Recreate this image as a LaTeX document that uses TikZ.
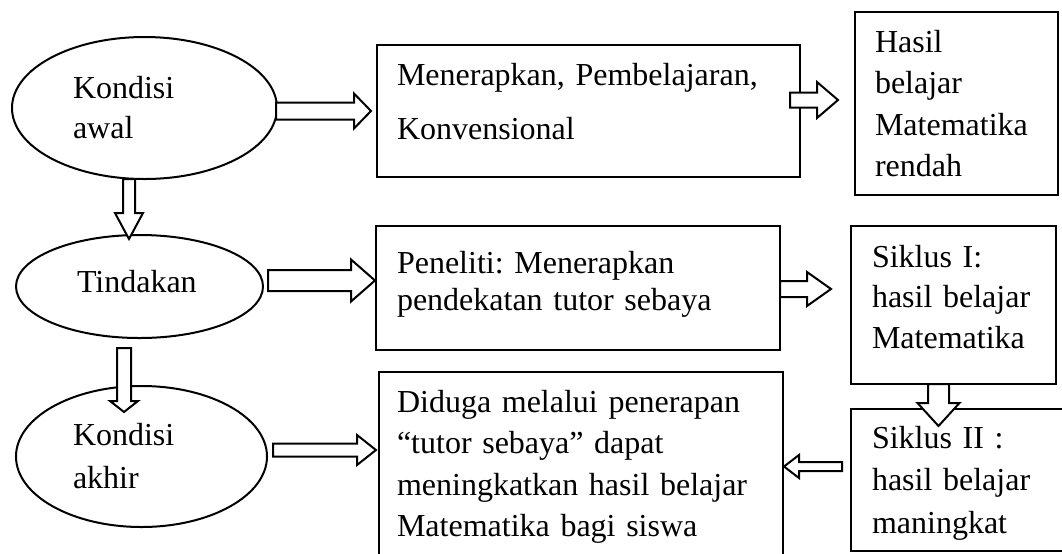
\documentclass[tikz,border=0pt]{standalone}
\usepackage{fontspec}
\setmainfont{Liberation Serif}
\usetikzlibrary{shapes.geometric,calc}
\frenchspacing

\tikzset{
  kotak/.style={draw, line width=1pt, outer sep=0pt, inner ysep=0pt, align=left, anchor=north west},
  lonjong/.style={draw, ellipse, line width=1pt, outer sep=0pt, inner sep=0pt, align=left},
  panah/.style={draw, fill=white, line width=1pt, line join=miter}
}

% #1 shaft half width, #2 head half width, #3 head length, #4 from, #5 to
\newcommand{\blockarrow}[5]{%
  \path (#4) coordinate (bas) (#5) coordinate (bae);
  \coordinate (bah) at ($(bae)!#3!(bas)$);
  \draw[panah] ($(bas)!#1!90:(bae)$) -- ($(bah)!#1!90:(bae)$) -- ($(bah)!#2!90:(bae)$) -- (bae)
    -- ($(bah)!#2!-90:(bae)$) -- ($(bah)!#1!-90:(bae)$) -- ($(bas)!#1!-90:(bae)$) -- cycle;
}

\begin{document}
\begin{tikzpicture}[x=0.5pt, y=-0.5pt]
    \useasboundingbox (0,0) rectangle (1062,553);
    \clip (0,0) rectangle (1062,553);
    \node[lonjong, minimum width=132.5pt, minimum height=71pt, text width=71.5pt, text height=12pt, text depth=22pt, font=\fontsize{16}{20}\selectfont] (e1) at (144.5,108) {Kondisi\\awal};
    \node[lonjong, minimum width=123.5pt, minimum height=51.5pt, text width=62.5pt, text height=11pt, text depth=5.5pt, font=\fontsize{16}{20}\selectfont] (e2) at (139.5,286.5) {Tindakan};
    \node[lonjong, minimum width=125.5pt, minimum height=70.5pt, text width=68.5pt, text height=12pt, text depth=23.5pt, font=\fontsize{16}{21.5}\selectfont] (e3) at (141.5,456.5) {Kondisi\\akhir};
    \node[kotak, inner xsep=10pt, text width=191.5pt, text height=20pt, text depth=46pt, font=\fontsize{16}{27}\selectfont] (b1) at (377,45) {Menerapkan, Pembelajaran,\\Konvensional};
    \node[kotak, inner xsep=10pt, text width=81.5pt, text height=20pt, text depth=71.5pt, font=\fontsize{16}{20.8}\selectfont] (b2) at (855,12) {Hasil\\belajar\\Matematika\\rendah};
    \node[kotak, inner xsep=10.5pt, text width=181pt, text height=23.5pt, text depth=38.5pt, font=\fontsize{16}{18.5}\selectfont] (b3) at (376,226) {Peneliti: Menerapkan\\pendekatan tutor sebaya};
    \node[kotak, inner xsep=10.5pt, text width=81.5pt, text height=20.5pt, text depth=58.5pt, font=\fontsize{16}{20.25}\selectfont] (b4) at (851,226) {Siklus I:\\hasil belajar\\Matematika};
    \node[kotak, inner xsep=9pt, text width=184pt, text height=20pt, text depth=81.5pt, font=\fontsize{16}{20.8}\selectfont] (b5) at (379,372) {Diduga melalui penerapan\\“tutor sebaya” dapat\\meningkatkan hasil belajar\\Matematika bagi siswa};
    \node[kotak, inner xsep=10.5pt, text width=91pt, text height=19.5pt, text depth=51.5pt, font=\fontsize{16}{21.25}\selectfont] (b6) at (851,409) {Siklus II :\\hasil belajar\\maningkat};
    \blockarrow{4.25pt}{8.75pt}{8.5pt}{$(e1.east |- b1.west)+(-1,0)$}{$(b1.west)+(-6,0)$}
    \blockarrow{3.75pt}{9pt}{10.5pt}{$(b1.east)+(-10,-11)$}{$(b2.west)+(-17,-3.5)$}
    \blockarrow{5.25pt}{10.5pt}{12pt}{$(e2.east)+(5,-6)$}{$(b3.west)+(-1,-7.5)$}
    \blockarrow{4pt}{8.5pt}{12pt}{$(b3.east)+(0,1)$}{$(b3.east -| b4.west)+(-20,1)$}
    \blockarrow{3pt}{7pt}{13pt}{$(e1.south)+(-15.5,0)$}{$(e2.north)+(-10.5,4)$}
    \blockarrow{3.5pt}{7pt}{5.5pt}{$(e2.south)+(-15.5,10)$}{$(e3.north)+(-17.5,26)$}
    \blockarrow{3.25pt}{7.5pt}{9.5pt}{$(e3.east)+(6,-6.5)$}{$(e3.east -| b5.west)+(-3,-6.5)$}
    \blockarrow{5.25pt}{10.5pt}{11.5pt}{$(b4.south)+(-15,0)$}{$(b4.south |- b6.north)+(-15,17)$}
    \blockarrow{2.25pt}{5.75pt}{7.5pt}{$(b6.west)+(-9,-13.5)$}{$(b6.west -| b5.east)+(1,-13.5)$}
\end{tikzpicture}
\end{document}
